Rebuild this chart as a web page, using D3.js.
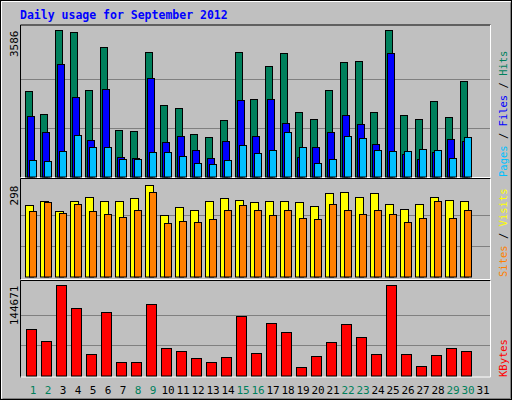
<!DOCTYPE html>
<html><head><meta charset="utf-8">
<script src="https://cdn.jsdelivr.net/npm/d3@7"></script>
<style>body{margin:0;background:#fff}svg{display:block}</style></head>
<body><svg width="512" height="400"></svg>
<script>
const days = d3.range(1,31+1);
const weekend = [1,2,8,9,15,16,22,23,29,30];
const hits  = [2077,1517,3586,3513,2101,3148,1127,1104,3026,1736,1663,1030,957,1371,3026,1882,2685,3002,1566,1395,2101,2783,2807,1566,3562,1492,1395,1833,1444,2320,0];
const files = [1469,1079,2743,1931,884,2126,471,446,2393,836,982,641,446,860,1858,982,1882,1298,471,715,1079,1492,1274,787,3002,544,422,592,908,860,0];
const pages = [398,373,617,1006,715,715,422,422,592,592,495,325,300,398,763,568,641,1079,715,325,422,982,933,641,617,617,665,641,446,957,0];
const visits= [233,243,211,246,256,246,246,253,298,198,224,217,243,253,249,240,243,246,240,227,272,275,259,272,236,220,236,256,249,246,0];
const sites = [211,240,207,236,211,201,194,214,275,172,181,178,185,214,230,214,198,214,191,185,236,217,204,214,204,178,191,246,191,217,0];
const kbytes= [73390,54383,144671,106655,33792,100320,21120,21120,112992,43296,38544,27456,21120,29040,93984,35376,82896,68640,13200,30624,52800,81312,60720,33792,143087,33792,14784,32208,43296,38544,0];
const title = "Daily usage for September 2012";

const svg = d3.select("svg");
const F = "'DejaVu Sans Mono', monospace";
svg.append("rect").attr("width",512).attr("height",400).attr("fill","#C0C0C0");
svg.append("rect").attr("x",0.5).attr("y",0.5).attr("width",511).attr("height",399).attr("fill","none").attr("stroke","#000");
svg.append("path").attr("d","M1.5,398.5V1.5H510.5").attr("fill","none").attr("stroke","#fff");
svg.append("path").attr("d","M2.5,398.5H510.5V2.5").attr("fill","none").attr("stroke","#808080");
svg.append("text").attr("x",20).attr("y",19).attr("font-family",F).attr("font-size",11.5).attr("font-weight","bold").attr("fill","#0000FF").text(title);

const x = d3.scaleLinear().domain([1,31]).range([25,475]);
const panels = [{t:24.5,b:178},{t:178,b:280},{t:280,b:377.5}];
panels.forEach(p=>{
  svg.append("path").attr("d",`M20.5,${p.b}V${p.t+0.5}H490.5`).attr("fill","none").attr("stroke","#000");
  svg.append("path").attr("d",`M20.5,${p.b-0.5}H490.5V${p.t+0.5}`).attr("fill","none").attr("stroke","#fff");
});
function panel(y0,y1,max,lab){
  const y=d3.scaleLinear().domain([0,max]).range([y0,y1]);
  [max/3,2*max/3].forEach(v=>svg.append("line").attr("x1",21).attr("x2",490).attr("y1",Math.round(y(v))+0.5).attr("y2",Math.round(y(v))+0.5).attr("stroke","#808080"));
  svg.append("text").attr("transform",`translate(18,${y1+1}) rotate(-90)`).attr("text-anchor","end").attr("font-family",F).attr("font-size",11).attr("fill","#000").text(lab);
  return y;
}
function bars(y,data,off,w,col){
  svg.append("g").selectAll("rect").data(data.map((v,i)=>[i+1,v]).filter(d=>d[1]>0)).join("rect")
   .attr("x",d=>x(d[0])+off+0.5).attr("y",d=>Math.round(y(d[1]))+0.5).attr("width",w)
   .attr("height",d=>y.range()[0]-Math.round(y(d[1]))).attr("fill",col).attr("stroke","#000");
}
const y1=panel(176.5,29.5,3586,"3586");
bars(y1,hits,0,7,"#00805C");bars(y1,files,2,7,"#0000FF");bars(y1,pages,4,7,"#00C0FF");
const y2=panel(276.5,184.5,298,"298");
bars(y2,visits,0,8,"#FFFF00");bars(y2,sites,4,7,"#FF8000");
const y3=panel(375.5,284.5,144671,"144671");
bars(y3,kbytes,1,10,"#FF0000");

function rlab(yb,parts){
  const t=svg.append("text").attr("transform",`translate(507,${yb}) rotate(-90)`).attr("font-family",F).attr("font-size",10.5);
  parts.forEach(p=>t.append("tspan").attr("fill",p[1]).attr("xml:space","preserve").text(p[0]));
}
rlab(177,[["Pages","#00C0FF"],[" / ","#000"],["Files","#0000FF"],[" / ","#000"],["Hits","#00805C"]]);
rlab(277,[["Sites","#FF8000"],[" / ","#000"],["Visits","#FFFF00"]]);
rlab(377,[["KBytes","#FF0000"]]);

svg.append("g").selectAll("text").data(days).join("text").attr("x",d=>x(d)+8).attr("y",394)
 .attr("text-anchor","middle").attr("font-family",F).attr("font-size",11)
 .attr("fill",d=>weekend.includes(d)?"#00805C":"#000").text(d=>d);
</script></body></html>
